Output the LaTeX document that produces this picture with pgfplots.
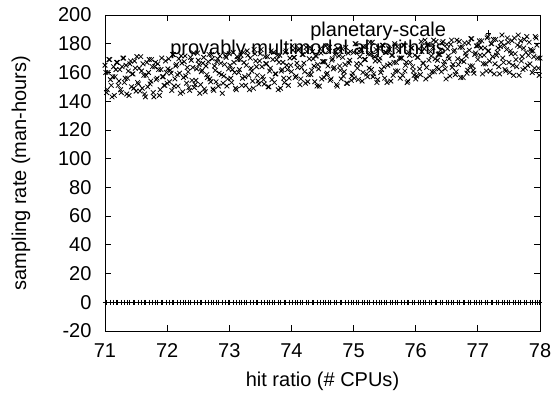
\documentclass[border=0pt]{standalone}
\usepackage{fontspec}
\setmainfont{Liberation Sans}
\usepackage{pgfplots}
\pgfplotsset{compat=1.18}
\usepackage{pgfplotstable}

\pgfplotstableread{
x y
71.00 0
71.03 0
71.09 0
71.13 0
71.18 0
71.20 0
71.27 0
71.31 0
71.36 0
71.39 0
71.45 0
71.48 0
71.54 0
71.58 0
71.63 0
71.65 0
71.72 0
71.76 0
71.81 0
71.84 0
71.90 0
71.93 0
71.99 0
72.03 0
72.08 0
72.10 0
72.17 0
72.21 0
72.26 0
72.29 0
72.35 0
72.38 0
72.44 0
72.48 0
72.53 0
72.55 0
72.62 0
72.66 0
72.71 0
72.74 0
72.80 0
72.83 0
72.89 0
72.93 0
72.98 0
73.00 0
73.07 0
73.11 0
73.16 0
73.19 0
73.25 0
73.28 0
73.34 0
73.38 0
73.43 0
73.45 0
73.52 0
73.56 0
73.61 0
73.64 0
73.70 0
73.73 0
73.79 0
73.83 0
73.88 0
73.90 0
73.97 0
74.01 0
74.06 0
74.09 0
74.15 0
74.18 0
74.24 0
74.28 0
74.33 0
74.35 0
74.42 0
74.46 0
74.51 0
74.54 0
74.60 0
74.63 0
74.69 0
74.73 0
74.78 0
74.80 0
74.87 0
74.91 0
74.96 0
74.99 0
75.05 0
75.08 0
75.14 0
75.18 0
75.23 0
75.25 0
75.32 0
75.36 0
75.41 0
75.44 0
75.50 0
75.53 0
75.59 0
75.63 0
75.68 0
75.70 0
75.77 0
75.81 0
75.86 0
75.89 0
75.95 0
75.98 0
76.04 0
76.08 0
76.13 0
76.15 0
76.22 0
76.26 0
76.31 0
76.34 0
76.40 0
76.43 0
76.49 0
76.53 0
76.58 0
76.60 0
76.67 0
76.71 0
76.76 0
76.79 0
76.85 0
76.88 0
76.94 0
76.98 0
77.03 0
77.05 0
77.12 0
77.16 0
77.21 0
77.24 0
77.30 0
77.33 0
77.39 0
77.43 0
77.48 0
77.50 0
77.57 0
77.61 0
77.66 0
77.69 0
77.75 0
77.78 0
77.84 0
77.88 0
77.93 0
77.95 0
77.99 0
}\zerodata

\pgfplotstableread{
x y
71.000 165
71.025 146
71.050 160
71.075 169
71.100 151
71.125 157
71.150 144
71.175 162
71.200 167
71.225 154
71.250 148
71.275 164
71.300 170
71.325 156
71.350 145
71.375 161
71.400 166
71.425 150
71.450 159
71.475 168
71.500 147
71.525 153
71.550 163
71.575 171
71.600 149
71.625 158
71.650 143
71.675 167
71.700 160
71.725 152
71.750 169
71.775 146
71.800 164
71.825 155
71.850 166
71.875 144
71.900 162
71.925 157
71.950 151
71.975 168
72.000 152.5
72.025 169.5
72.050 161.5
72.075 147.5
72.100 172.5
72.125 155.5
72.150 165.5
72.175 150.5
72.200 159.5
72.225 171.5
72.250 146.5
72.275 167.5
72.300 157.5
72.325 163.5
72.350 149.5
72.375 170.5
72.400 154.5
72.425 173.5
72.450 151.5
72.475 162.5
72.500 168.5
72.525 145.5
72.550 160.5
72.575 166.5
72.600 148.5
72.625 164.5
72.650 156.5
72.675 172.5
72.700 153.5
72.725 169.5
72.750 147.5
72.775 161.5
72.800 167.5
72.825 150.5
72.850 171.5
72.875 158.5
72.900 152.5
72.925 165.5
72.950 170.5
72.975 155.5
73.000 173
73.025 156
73.050 162
73.075 167
73.100 149
73.125 171
73.150 160
73.175 169
73.200 151
73.225 174
73.250 157
73.275 165
73.300 172
73.325 148
73.350 163
73.375 154
73.400 176
73.425 168
73.450 158
73.475 152
73.500 173
73.525 164
73.550 155
73.575 171
73.600 166
73.625 150
73.650 161
73.675 175
73.700 169
73.725 153
73.750 159
73.775 172
73.800 167
73.825 149
73.850 162
73.875 156
73.900 174
73.925 165
73.950 151
73.975 170
74.000 160.5
74.025 175.5
74.050 170.5
74.075 157.5
74.100 163.5
74.125 176.5
74.150 155.5
74.175 172.5
74.200 166.5
74.225 152.5
74.250 174.5
74.275 158.5
74.300 177.5
74.325 161.5
74.350 169.5
74.375 153.5
74.400 171.5
74.425 165.5
74.450 150.5
74.475 173.5
74.500 167.5
74.525 156.5
74.550 178.5
74.575 159.5
74.600 175.5
74.625 154.5
74.650 168.5
74.675 162.5
74.700 172.5
74.725 151.5
74.750 176.5
74.775 164.5
74.800 155.5
74.825 170.5
74.850 160.5
74.875 177.5
74.900 152.5
74.925 166.5
74.950 174.5
74.975 157.5
75.000 174
75.025 180
75.050 166
75.075 155
75.100 171
75.125 176
75.150 160
75.175 169
75.200 178
75.225 157
75.250 163
75.275 173
75.300 181
75.325 159
75.350 168
75.375 153
75.400 177
75.425 170
75.450 162
75.475 179
75.500 156
75.525 174
75.550 165
75.575 176
75.600 154
75.625 172
75.650 167
75.675 161
75.700 178
75.725 175
75.750 156
75.775 170
75.800 179
75.825 161
75.850 167
75.875 154
75.900 172
75.925 177
75.950 164
75.975 158
76.000 155.5
76.025 170.5
76.050 176.5
76.075 158.5
76.100 174.5
76.125 166.5
76.150 182.5
76.175 163.5
76.200 179.5
76.225 157.5
76.250 171.5
76.275 177.5
76.300 160.5
76.325 181.5
76.350 168.5
76.375 162.5
76.400 175.5
76.425 180.5
76.450 165.5
76.475 162.5
76.500 179.5
76.525 171.5
76.550 157.5
76.575 182.5
76.600 165.5
76.625 175.5
76.650 160.5
76.675 169.5
76.700 181.5
76.725 156.5
76.750 177.5
76.775 167.5
76.800 173.5
76.825 159.5
76.850 180.5
76.875 164.5
76.900 183.5
76.925 161.5
76.950 172.5
76.975 178.5
77.000 169
77.025 182
77.050 177
77.075 159
77.100 172
77.125 166
77.150 184
77.175 175
77.200 161
77.225 180
77.250 183
77.275 166
77.300 172
77.325 177
77.350 159
77.375 181
77.400 170
77.425 179
77.450 161
77.475 184
77.500 167
77.525 175
77.550 182
77.575 158
77.600 173
77.625 164
77.650 186
77.675 178
77.700 168
77.725 162
77.750 183
77.775 174
77.800 165
77.825 181
77.850 176
77.875 160
77.900 171
77.925 185
77.950 179
77.975 163
78.000 170
71.0125 160
71.0375 148
71.0625 169
71.0875 155
71.1125 143
71.1375 164
71.1625 157
71.1875 167
71.2125 151
71.2375 162
71.2625 146
71.2875 170
71.3125 153
71.3375 165
71.3625 156
71.3875 144
71.4125 168
71.4375 159
71.4625 149
71.4875 163
71.5125 171
71.5375 152
71.5625 147
71.5875 161
71.6125 166
71.6375 145
71.6625 158
71.6875 150
71.7125 169
71.7375 154
71.7625 164
71.7875 143
71.8125 167
71.8375 156
71.8625 162
71.8875 148
71.9125 170
71.9375 157
71.9625 151
71.9875 160
72.0125 162.5
72.0375 153.5
72.0625 159.5
72.0875 172.5
72.1125 150.5
72.1375 164.5
72.1625 158.5
72.1875 169.5
72.2125 145.5
72.2375 166.5
72.2625 156.5
72.2875 171.5
72.3125 152.5
72.3375 160.5
72.3625 147.5
72.3875 168.5
72.4125 163.5
72.4375 149.5
72.4625 154.5
72.4875 173.5
72.5125 165.5
72.5375 151.5
72.5625 161.5
72.5875 170.5
72.6125 146.5
72.6375 158.5
72.6625 167.5
72.6875 155.5
72.7125 172.5
72.7375 148.5
72.7625 164.5
72.7875 153.5
72.8125 169.5
72.8375 159.5
72.8625 166.5
72.8875 145.5
72.9125 157.5
72.9375 171.5
72.9625 150.5
72.9875 162.5
73.0125 165
73.0375 153
73.0625 174
73.0875 160
73.1125 148
73.1375 169
73.1625 162
73.1875 172
73.2125 156
73.2375 167
73.2625 151
73.2875 175
73.3125 158
73.3375 170
73.3625 161
73.3875 149
73.4125 173
73.4375 164
73.4625 154
73.4875 168
73.5125 176
73.5375 157
73.5625 152
73.5875 166
73.6125 171
73.6375 150
73.6625 163
73.6875 155
73.7125 174
73.7375 159
73.7625 169
73.7875 148
73.8125 172
73.8375 161
73.8625 167
73.8875 153
73.9125 175
73.9375 162
73.9625 156
73.9875 165
74.0125 178.5
74.0375 170.5
74.0625 156.5
74.0875 166.5
74.1125 175.5
74.1375 151.5
74.1625 163.5
74.1875 172.5
74.2125 160.5
74.2375 177.5
74.2625 153.5
74.2875 169.5
74.3125 158.5
74.3375 174.5
74.3625 164.5
74.3875 171.5
74.4125 150.5
74.4375 162.5
74.4625 176.5
74.4875 155.5
74.5125 167.5
74.5375 167.5
74.5625 158.5
74.5875 164.5
74.6125 177.5
74.6375 155.5
74.6625 169.5
74.6875 163.5
74.7125 174.5
74.7375 150.5
74.7625 171.5
74.7875 161.5
74.8125 176.5
74.8375 157.5
74.8625 165.5
74.8875 152.5
74.9125 173.5
74.9375 168.5
74.9625 154.5
74.9875 159.5
75.0125 156
75.0375 180
75.0625 163
75.0875 175
75.1125 166
75.1375 154
75.1625 178
75.1875 169
75.2125 159
75.2375 173
75.2625 181
75.2875 162
75.3125 157
75.3375 171
75.3625 176
75.3875 155
75.4125 168
75.4375 160
75.4625 179
75.4875 164
75.5125 174
75.5375 153
75.5625 177
75.5875 166
75.6125 172
75.6375 158
75.6625 180
75.6875 167
75.7125 161
75.7375 170
75.7625 170
75.7875 158
75.8125 179
75.8375 165
75.8625 153
75.8875 174
75.9125 167
75.9375 177
75.9625 161
75.9875 172
76.0125 157.5
76.0375 170.5
76.0625 162.5
76.0875 181.5
76.1125 166.5
76.1375 176.5
76.1625 155.5
76.1875 179.5
76.2125 168.5
76.2375 174.5
76.2625 160.5
76.2875 182.5
76.3125 169.5
76.3375 163.5
76.3625 172.5
76.3875 172.5
76.4125 160.5
76.4375 181.5
76.4625 167.5
76.4875 155.5
76.5125 176.5
76.5375 169.5
76.5625 179.5
76.5875 163.5
76.6125 174.5
76.6375 158.5
76.6625 182.5
76.6875 165.5
76.7125 177.5
76.7375 168.5
76.7625 156.5
76.7875 180.5
76.8125 171.5
76.8375 161.5
76.8625 175.5
76.8875 183.5
76.9125 164.5
76.9375 159.5
76.9625 173.5
76.9875 178.5
77.0125 179
77.0375 172
77.0625 182
77.0875 166
77.1125 177
77.1375 161
77.1625 185
77.1875 168
77.2125 180
77.2375 171
77.2625 159
77.2875 183
77.3125 174
77.3375 164
77.3625 178
77.3875 186
77.4125 167
77.4375 162
77.4625 176
77.4875 181
77.5125 160
77.5375 173
77.5625 165
77.5875 184
77.6125 169
77.6375 179
77.6625 158
77.6875 182
77.7125 171
77.7375 177
77.7625 163
77.7875 185
77.8125 172
77.8375 166
77.8625 175
77.8875 175
77.9125 163
77.9375 184
77.9625 170
77.9875 158
}\scatterdata

\begin{document}
\begin{tikzpicture}[font=\fontsize{20bp}{24bp}\selectfont]
\begin{axis}[
  name=ax,
  scale only axis,
  width=435bp, height=316bp,
  xmin=71, xmax=78, ymin=-20, ymax=200,
  xtick={71,72,...,78},
  ytick={-20,0,20,...,200},
  tick align=inside,
  major tick length=6bp,
  axis line style={line width=0.8bp},
  every tick/.style={black, line width=0.8bp},
  /pgf/number format/assume math mode=true,
  xticklabel style={yshift=-9bp},
  yticklabel style={xshift=-10bp},
  xlabel={hit ratio (\# CPUs)},
  ylabel={sampling rate (man-hours)},
  every axis x label/.style={at={([yshift=-50bp]axis description cs:0.5,0)}, anchor=center},
  every axis y label/.style={at={([xshift=-84bp]axis description cs:0,0.5)}, anchor=center, rotate=90},
  legend plot pos=right,
  legend cell align=right,
  legend style={draw=none, fill=none, inner sep=0pt, outer sep=0pt,
    at={([xshift=-10bp,yshift=-9bp]axis description cs:1,1)}, anchor=north east,
    row sep=0pt, column sep=0pt,
    nodes={inner sep=0pt, text height=13bp, text depth=5bp}},
  legend image code/.code={\path[draw=none,fill=none] (0bp,0bp) -- (84bp,0bp);\draw[only marks,mark repeat=2,mark phase=2,#1] plot coordinates {(0bp,0bp) (42bp,0bp) (84bp,0bp)};},
]
\addplot[only marks, mark=+, mark size=2.5bp, mark options={line width=0.8bp}, black] table[x=x,y=y] {\zerodata};
\addlegendentry{planetary-scale}
\addplot[only marks, mark=x, mark size=3.3bp, mark options={line width=0.8bp}, black] table[x=x,y=y] {\scatterdata};
\addlegendentry{provably multimodal algorithms}
\end{axis}
\pgfresetboundingbox
\path[use as bounding box] ([xshift=-105bp,yshift=-66bp]ax.south west) rectangle ([xshift=18bp,yshift=15bp]ax.north east);
\end{tikzpicture}
\end{document}
